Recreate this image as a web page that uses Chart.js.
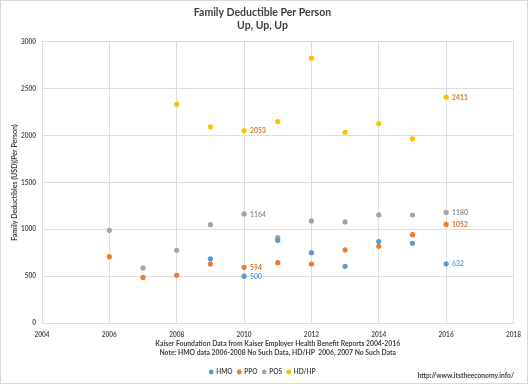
<!DOCTYPE html>
<html>
<head>
<meta charset="utf-8">
<script src="https://cdn.jsdelivr.net/npm/chart.js@4.4.1/dist/chart.umd.min.js"></script>
<style>
  html, body { margin: 0; padding: 0; background: #fff; }
  #wrap { width: 529px; height: 384px; position: relative; }
</style>
</head>
<body>
<div id="wrap"><canvas id="c" width="529" height="384"></canvas></div>
<script>
// ---- data ----
const years = [2006, 2007, 2008, 2009, 2010, 2011, 2012, 2013, 2014, 2015, 2016];
const hmo  = [null, null, null, 684, 500, 883, 751, 605, 869, 851, 632];
const ppo  = [708, 487, 509, 630, 594, 644, 630, 780, 819, 943, 1052];
const pos  = [989, 587, 776, 1050, 1164, 911, 1090, 1079, 1154, 1153, 1180];
const hdhp = [null, null, 2335, 2094, 2053, 2150, 2827, 2036, 2129, 1966, 2411];
const seriesNames = ['HMO', 'PPO', 'POS', 'HD/HP'];
const labelledYears = [2010, 2016];
const titleLines = ['Family Deductible Per Person', 'Up, Up, Up'];
const xTitleLines = ['Kaiser Foundation Data from Kaiser Employer Health Benefit Reports 2004-2016',
                     'Note: HMO data 2006-2008 No Such Data, HD/HP  2006, 2007 No Such Data'];
const yTitle = 'Family Deductibles (USD)(Per Person)';
const sourceUrl = 'http://www.itstheeconomy.info/';

// ---- styles ----
const colors = ['#5B9BD5', '#ED7D31', '#A5A5A5', '#FFC000'];
const labelColors = ['#4F93D2', '#D86E25', '#7F7F7F', '#D07A2A'];
const FONT = 'Lato, "Open Sans", sans-serif';
const textColor = '#505050';
const gridColor = '#DDDDDD';

function toPoints(vals) {
  const out = [];
  vals.forEach((v, i) => { if (v !== null) out.push({ x: years[i], y: v }); });
  return out;
}
const allSeries = [hmo, ppo, pos, hdhp];

const datasets = allSeries.map((vals, k) => ({
  label: seriesNames[k],
  data: toPoints(vals),
  backgroundColor: colors[k],
  borderColor: colors[k],
  pointRadius: 2.6,
  pointHoverRadius: 2.6,
  borderWidth: 0,
  showLine: false
}));

const bgPlugin = {
  id: 'bg',
  beforeDraw(chart) {
    const ctx = chart.ctx;
    ctx.save();
    ctx.fillStyle = '#fff';
    ctx.fillRect(0, 0, chart.width, chart.height);
    ctx.strokeStyle = '#D9D9D9';
    ctx.lineWidth = 1;
    ctx.strokeRect(0.5, 0.5, chart.width - 2, chart.height - 1);
    ctx.restore();
  }
};

const labelPlugin = {
  id: 'pointLabels',
  afterDatasetsDraw(chart) {
    const ctx = chart.ctx;
    ctx.save();
    ctx.textBaseline = 'middle';
    ctx.textAlign = 'left';
    chart.data.datasets.forEach((ds, k) => {
      const meta = chart.getDatasetMeta(k);
      ds.data.forEach((p, i) => {
        if (labelledYears.includes(p.x)) {
          const el = meta.data[i];
          ctx.font = (k === 1 || k === 3 ? 'bold ' : '600 ') + '6.8px ' + FONT;
          ctx.fillStyle = labelColors[k];
          ctx.fillText(String(p.y), el.x + 6, el.y + 0.5);
        }
      });
    });
    // source url
    ctx.font = 'bold 6.7px ' + FONT;
    ctx.fillStyle = '#404040';
    ctx.textAlign = 'right';
    ctx.fillText(sourceUrl, 514, 376);
    ctx.restore();
  }
};

new Chart(document.getElementById('c'), {
  type: 'scatter',
  data: { datasets },
  options: {
    responsive: false,
    animation: false,
    devicePixelRatio: 1,
    layout: { padding: { left: 11, right: 15, top: 0, bottom: -1.25 } },
    plugins: {
      title: {
        display: true,
        text: titleLines,
        color: '#404040',
        font: { family: FONT, size: 10.5, weight: 'bold', lineHeight: 1.15 },
        padding: { top: 7, bottom: 10.8 }
      },
      legend: {
        position: 'bottom',
        labels: {
          usePointStyle: true,
          pointStyle: 'circle',
          boxWidth: 3.4,
          boxHeight: 3.4,
          color: textColor,
          font: { family: FONT, size: 6.5, weight: 'bold' },
          padding: 5
        }
      },
      tooltip: { enabled: false }
    },
    scales: {
      x: {
        type: 'linear',
        min: 2004, max: 2018,
        ticks: { stepSize: 2, color: textColor, font: { family: FONT, size: 6.5, weight: 'bold' }, padding: 8, callback: v => String(v) },
        grid: { color: gridColor, drawTicks: false },
        border: { color: gridColor },
        title: {
          display: true,
          text: xTitleLines,
          color: '#404040',
          font: { family: FONT, size: 6.8, weight: 'bold', lineHeight: 1.33 },
          padding: { top: 0, bottom: 6.25 }
        },
        afterFit(scale) { scale.height = 40.75; }
      },
      y: {
        min: 0, max: 3000,
        ticks: { stepSize: 500, color: textColor, font: { family: FONT, size: 6.5, weight: 'bold' }, padding: 6, callback: v => String(v) },
        grid: { color: gridColor, drawTicks: false },
        border: { color: gridColor },
        title: {
          display: true,
          text: yTitle,
          color: '#404040',
          font: { family: FONT, size: 7, weight: 'bold' },
          padding: { top: 0, bottom: 4 }
        },
        afterFit(scale) { scale.width = 31; }
      }
    }
  },
  plugins: [bgPlugin, labelPlugin]
});
</script>
</body>
</html>
